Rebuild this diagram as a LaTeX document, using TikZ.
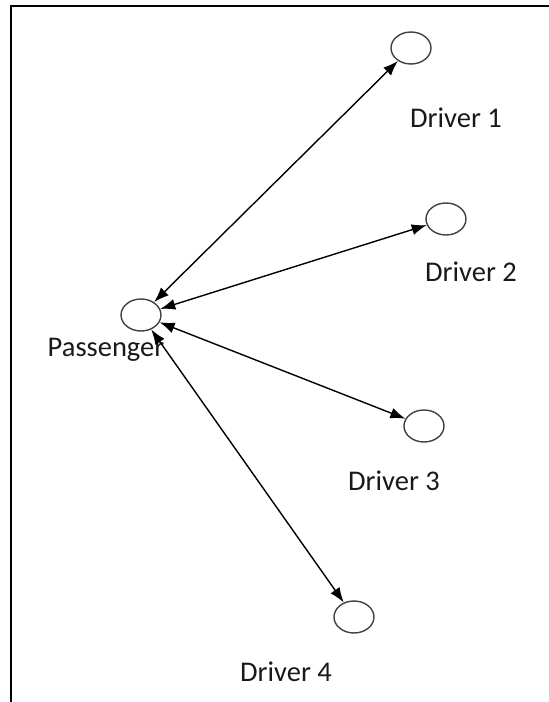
\documentclass[tikz,border=0pt]{standalone}
\usepackage{fontspec}
\setmainfont{Carlito}
\usetikzlibrary{shapes.geometric,arrows.meta}
\begin{document}
\begin{tikzpicture}[x=1pt,y=-1pt,
  peer/.style={ellipse,draw=black!75,line width=1.4pt,minimum width=40pt,minimum height=32pt,inner sep=0pt},
  lbl/.style={font=\fontsize{28.5}{32}\selectfont,text=black!90,inner sep=0pt},
  link/.style={line width=1.4pt,{Latex[length=15pt,width=11pt]}-{Latex[length=15pt,width=11pt]}}]
\useasboundingbox (0,0) rectangle (549,702);
\draw[line width=2.6pt] (11,702) -- (11,6) -- (549,6);
\node[peer] (p) at (141,315) {};
\node[peer] (d1) at (411,48) {};
\node[peer] (d2) at (446,219) {};
\node[peer] (d3) at (424,426) {};
\node[peer] (d4) at (354,617) {};
\node[lbl] (lp) at (106,350) {Passenger};
\node[lbl] (l1) at (456,118) {Driver 1};
\node[lbl] (l2) at (471,272) {Driver 2};
\node[lbl] (l3) at (394,481) {Driver 3};
\node[lbl] (l4) at (286,672) {Driver 4};
\draw[link] (p) -- (d1);
\draw[link] (p) -- (d2);
\draw[link] (p) -- (d3);
\draw[link] (p) -- (d4);
\end{tikzpicture}
\end{document}
